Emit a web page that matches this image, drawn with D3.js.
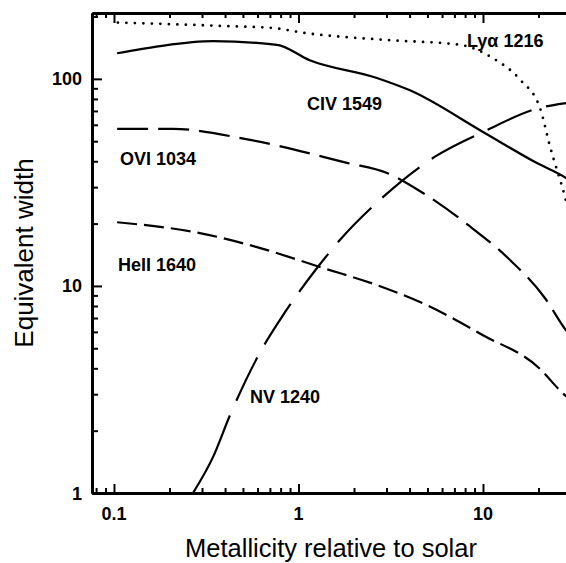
<!DOCTYPE html>
<html><head><meta charset="utf-8">
<script src="https://cdn.jsdelivr.net/npm/d3@7"></script>
<style>
html,body{margin:0;padding:0;background:#fff;}
svg{display:block;}
text{font-family:"Liberation Sans",Arial,Helvetica,sans-serif;fill:#000;}
</style></head>
<body>
<script>
// ---- data ----
const lyaX  = [0.105, 0.39, 0.73, 1.06, 3.02, 7.5, 11.3, 15.9, 20.4, 23.1, 27.8, 29.5];
const lyaY  = [187, 180, 176, 167, 154, 146, 126, 99, 72, 47, 27, 22];
const civX  = [0.104, 0.178, 0.344, 0.764, 1.15, 2.66, 4.02, 10, 19.6, 28.2, 30];
const civY  = [133, 144, 152, 146, 123, 101, 88, 55.4, 39.2, 33.2, 32];
const oviX  = [0.104, 0.209, 0.546, 1.83, 3.02, 4.73, 8.3, 13.7, 21.7, 28.2, 30];
const oviY  = [57.3, 57.3, 50.7, 39.3, 35.1, 28.1, 19.7, 13.6, 8.72, 6.1, 5.7];
const heiiX = [0.104, 0.292, 0.596, 1.36, 2.66, 4.97, 10, 19.9, 27.1, 30];
const heiiY = [20.3, 18.0, 15.4, 12.2, 10.1, 8.07, 5.78, 4.05, 3.03, 2.8];
const nvX   = [0.268, 0.344, 0.425, 0.642, 0.794, 1.26, 1.68, 2.77, 5.49, 10, 20.4, 28.2, 30];
const nvY   = [1.0, 1.49, 2.37, 5.06, 6.86, 12.2, 16.7, 26.1, 42.1, 55.4, 72.5, 76.4, 77];
const seriesNames = ["Ly\u03b1 1216", "CIV 1549", "OVI 1034", "HeII 1640", "NV 1240"];
const xMajorTicks = [0.1, 1, 10];
const xTickLabels = ["0.1", "1", "10"];
const yMajorTicks = [1, 10, 100];
const yTickLabels = ["1", "10", "100"];
const xTitle = "Metallicity relative to solar";
const yTitle = "Equivalent width";

(function () {
// ---- layout ----
const W = 566, H = 563;
const mLeft = 92, mTop = 13, mBottom = 493;
const decX = 184.5;
const x0 = 0.076;
const xMax = 40;
const x = d3.scaleLog().domain([x0, xMax]).range([mLeft, mLeft + decX * Math.log10(xMax / x0)]);
const y = d3.scaleLog().domain([1, 208]).range([mBottom, mTop]);

const svg = d3.select("body").append("svg").attr("width", W).attr("height", H);

svg.append("clipPath").attr("id", "clip").append("rect")
  .attr("x", mLeft).attr("y", mTop).attr("width", x.range()[1] - mLeft).attr("height", mBottom - mTop);

function minorTicks(domain) {
  const out = [];
  for (let e = -2; e <= 3; e++) for (let m = 2; m <= 9; m++) {
    const v = m * Math.pow(10, e);
    if (v > domain[0] && v < domain[1]) out.push(v);
  }
  return out;
}
const xMinor = minorTicks(x.domain());
const yMinor = minorTicks(y.domain());

function styleAxis(g, domainWidth) {
  g.select(".domain").attr("stroke", "#000").attr("stroke-width", domainWidth);
  g.selectAll(".tick line").attr("stroke", "#000").attr("stroke-width", 2);
}

// bottom axis
const gb = svg.append("g").attr("transform", `translate(0,${mBottom})`)
  .call(d3.axisBottom(x).tickValues(xMajorTicks).tickSizeInner(-9).tickSizeOuter(0).tickPadding(0).tickFormat(""));
styleAxis(gb, 3);
const gbm = svg.append("g").attr("transform", `translate(0,${mBottom})`)
  .call(d3.axisBottom(x).tickValues(xMinor).tickSizeInner(-5).tickSizeOuter(0).tickFormat(""));
styleAxis(gbm, 3);
// top axis
const gt = svg.append("g").attr("transform", `translate(0,${mTop})`)
  .call(d3.axisTop(x).tickValues(xMajorTicks).tickSizeInner(-10).tickSizeOuter(0).tickFormat(""));
styleAxis(gt, 3);
const gtm = svg.append("g").attr("transform", `translate(0,${mTop})`)
  .call(d3.axisTop(x).tickValues(xMinor).tickSizeInner(-5).tickSizeOuter(0).tickFormat(""));
styleAxis(gtm, 3);
// left axis
const gl = svg.append("g").attr("transform", `translate(${mLeft},0)`)
  .call(d3.axisLeft(y).tickValues(yMajorTicks).tickSizeInner(-10).tickSizeOuter(0).tickFormat(""));
styleAxis(gl, 3);
const glm = svg.append("g").attr("transform", `translate(${mLeft},0)`)
  .call(d3.axisLeft(y).tickValues(yMinor).tickSizeInner(-6).tickSizeOuter(0).tickFormat(""));
styleAxis(glm, 3);

// tick labels
svg.append("g").selectAll("text").data(xMajorTicks).join("text")
  .attr("x", d => x(d)).attr("y", 520).attr("text-anchor", "middle")
  .attr("font-size", 18).attr("font-weight", "bold")
  .text((d, i) => xTickLabels[i]);
svg.append("g").selectAll("text").data(yMajorTicks).join("text")
  .attr("x", 82).attr("y", d => y(d) + 6.5).attr("text-anchor", "end")
  .attr("font-size", 18).attr("font-weight", "bold")
  .text((d, i) => yTickLabels[i]);

// titles
svg.append("text").attr("x", 331).attr("y", 557).attr("text-anchor", "middle")
  .attr("font-size", 25.5).text(xTitle);
svg.append("text").attr("transform", "translate(33,253) rotate(-90)").attr("text-anchor", "middle")
  .attr("font-size", 26).text(yTitle);

// curves
const line = d3.line().x(d => x(d[0])).y(d => y(d[1])).curve(d3.curveMonotoneX);
const zip = (a, b) => a.map((v, i) => [v, b[i]]);
const nvDash = "86,16," + Array(20).fill("48,15").join(",");
const curves = [
  { data: zip(lyaX, lyaY),  dash: "0,8.5", width: 2.8, cap: "round" },
  { data: zip(civX, civY),  dash: null,   width: 2.2, cap: "butt" },
  { data: zip(oviX, oviY),  dash: "31,10", width: 2.2, cap: "butt" },
  { data: zip(heiiX, heiiY), dash: "20,7", width: 2.2, cap: "butt" },
  { data: zip(nvX, nvY),    dash: nvDash, width: 2.2, cap: "butt" }
];
const gc = svg.append("g").attr("clip-path", "url(#clip)");
curves.forEach(c => {
  gc.append("path").attr("d", line(c.data)).attr("fill", "none").attr("stroke", "#000")
    .attr("stroke-width", c.width).attr("stroke-linecap", c.cap)
    .attr("stroke-dasharray", c.dash);
});

// series labels
const labelPos = [[467, 47], [307, 110], [120, 165], [118, 271], [250, 403]];
svg.append("g").selectAll("text").data(seriesNames).join("text")
  .attr("x", (d, i) => labelPos[i][0]).attr("y", (d, i) => labelPos[i][1])
  .attr("font-size", 18).attr("font-weight", "bold").text(d => d);
})();
</script>
</body></html>
